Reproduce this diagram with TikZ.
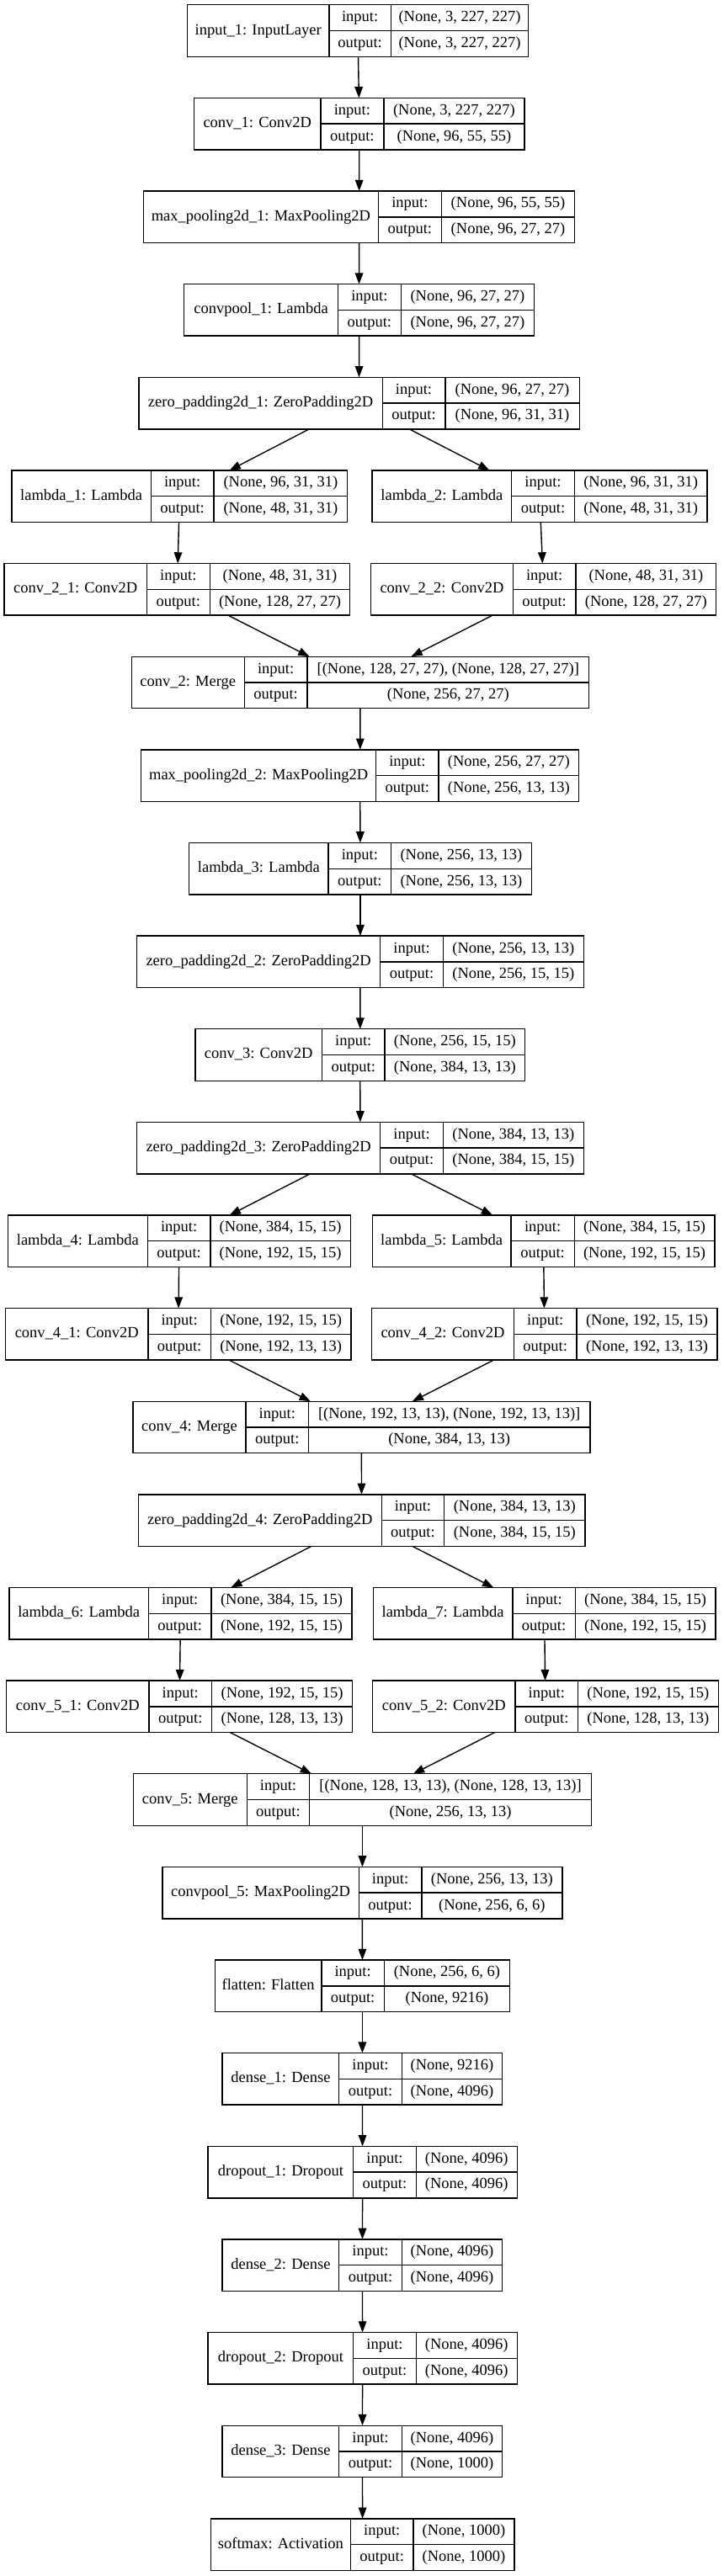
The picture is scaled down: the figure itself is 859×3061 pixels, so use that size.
\documentclass[tikz,border=0pt]{standalone}
\usepackage{fontspec}
\setmainfont{Liberation Serif}
\usetikzlibrary{arrows.meta}
\tikzset{
  lbox/.style={draw=black, line width=1.4pt, inner sep=0pt, outer sep=0pt},
  cell/.style={inner sep=0pt, text height=13pt, text depth=4pt, font=\fontsize{18.5}{22}\selectfont},
  divline/.style={line width=1.4pt, draw=black},
  conn/.style={-{Triangle[length=13.3pt,width=9.6pt]}, line width=1.4pt, draw=black},
}
\newcommand{\nnlayer}[9]{%
  \pgfmathsetmacro\lT{5.8+110.63*#6}%
  \pgfmathsetmacro\lB{\lT+61.5}%
  \pgfmathsetmacro\lM{\lT+30.75}%
  \pgfmathsetmacro\lU{\lT+15.4}%
  \pgfmathsetmacro\lD{\lT+46.1}%
  \pgfmathsetmacro\lW{#5-#2}%
  \node[lbox, minimum width=\lW pt, minimum height=61.5pt] (#1) at ({(#2+#5)/2},\lM) {};
  \draw[divline] (#3,\lT) -- (#3,\lB) (#4,\lT) -- (#4,\lB) (#3,\lM) -- (#5,\lM);
  \node[cell] (#1-t) at ({(#2+#3)/2},\lM) {#7};
  \node[cell] (#1-i) at ({(#3+#4)/2},\lU) {input:};
  \node[cell] (#1-o) at ({(#3+#4)/2},\lD) {output:};
  \node[cell] (#1-iv) at ({(#4+#5)/2},\lU) {#8};
  \node[cell] (#1-ov) at ({(#4+#5)/2},\lD) {#9};
}
\begin{document}
\begin{tikzpicture}[x=1pt,y=-1pt]
\useasboundingbox[fill=white] (0,0) rectangle (859,3061);
\nnlayer{in1}{222.3}{391}{464.3}{627.7}{0}{input\_1: InputLayer}{(None, 3, 227, 227)}{(None, 3, 227, 227)}
\nnlayer{c1}{230.7}{380.8}{455.9}{623}{1}{conv\_1: Conv2D}{(None, 3, 227, 227)}{(None, 96, 55, 55)}
\nnlayer{mp1}{170.4}{449.3}{524.4}{682.7}{2}{max\_pooling2d\_1: MaxPooling2D}{(None, 96, 55, 55)}{(None, 96, 27, 27)}
\nnlayer{cp1}{218.6}{401.6}{476.2}{634.5}{3}{convpool\_1: Lambda}{(None, 96, 27, 27)}{(None, 96, 27, 27)}
\nnlayer{zp1}{164.9}{454.2}{528.8}{688.2}{4}{zero\_padding2d\_1: ZeroPadding2D}{(None, 96, 27, 27)}{(None, 96, 31, 31)}
\nnlayer{l1}{14}{179.3}{254}{412.7}{5}{lambda\_1: Lambda}{(None, 96, 31, 31)}{(None, 48, 31, 31)}
\nnlayer{l2}{442}{607.7}{682.3}{840}{5}{lambda\_2: Lambda}{(None, 96, 31, 31)}{(None, 48, 31, 31)}
\nnlayer{c21}{5}{174.3}{249.3}{415.7}{6}{conv\_2\_1: Conv2D}{(None, 48, 31, 31)}{(None, 128, 27, 27)}
\nnlayer{c22}{440.7}{609.3}{684}{850.7}{6}{conv\_2\_2: Conv2D}{(None, 48, 31, 31)}{(None, 128, 27, 27)}
\nnlayer{c2}{156.2}{290.4}{364.9}{699.7}{7}{conv\_2: Merge}{[(None, 128, 27, 27), (None, 128, 27, 27)]}{(None, 256, 27, 27)}
\nnlayer{mp2}{167.7}{446.6}{521.1}{687.7}{8}{max\_pooling2d\_2: MaxPooling2D}{(None, 256, 27, 27)}{(None, 256, 13, 13)}
\nnlayer{l3}{224.7}{390.1}{464.7}{631.2}{9}{lambda\_3: Lambda}{(None, 256, 13, 13)}{(None, 256, 13, 13)}
\nnlayer{zp2}{162.7}{451.5}{526.6}{693.2}{10}{zero\_padding2d\_2: ZeroPadding2D}{(None, 256, 13, 13)}{(None, 256, 15, 15)}
\nnlayer{c3}{231.8}{382.5}{457}{623.6}{11}{conv\_3: Conv2D}{(None, 256, 15, 15)}{(None, 384, 13, 13)}
\nnlayer{zp3}{162.7}{451.5}{526.6}{693.2}{12}{zero\_padding2d\_3: ZeroPadding2D}{(None, 384, 13, 13)}{(None, 384, 15, 15)}
\nnlayer{l4}{9.3}{175.3}{249.9}{416.4}{13}{lambda\_4: Lambda}{(None, 384, 15, 15)}{(None, 192, 15, 15)}
\nnlayer{l5}{442.2}{607.1}{682.2}{848.8}{13}{lambda\_5: Lambda}{(None, 384, 15, 15)}{(None, 192, 15, 15)}
\nnlayer{c41}{6.6}{175.9}{250.4}{417}{14}{conv\_4\_1: Conv2D}{(None, 192, 15, 15)}{(None, 192, 13, 13)}
\nnlayer{c42}{441.6}{610.4}{685}{852}{14}{conv\_4\_2: Conv2D}{(None, 192, 15, 15)}{(None, 192, 13, 13)}
\nnlayer{c4}{157.8}{292}{366.6}{700.8}{15}{conv\_4: Merge}{[(None, 192, 13, 13), (None, 192, 13, 13)]}{(None, 384, 13, 13)}
\nnlayer{zp4}{164.4}{453.2}{527.7}{694.8}{16}{zero\_padding2d\_4: ZeroPadding2D}{(None, 384, 13, 13)}{(None, 384, 15, 15)}
\nnlayer{l6}{11}{176.4}{251}{418}{17}{lambda\_6: Lambda}{(None, 384, 15, 15)}{(None, 192, 15, 15)}
\nnlayer{l7}{443.3}{608.8}{683.3}{849.9}{17}{lambda\_7: Lambda}{(None, 384, 15, 15)}{(None, 192, 15, 15)}
\nnlayer{c51}{7.7}{177}{251.5}{418.6}{18}{conv\_5\_1: Conv2D}{(None, 192, 15, 15)}{(None, 128, 13, 13)}
\nnlayer{c52}{442.7}{612}{686.6}{853.2}{18}{conv\_5\_2: Conv2D}{(None, 192, 15, 15)}{(None, 128, 13, 13)}
\nnlayer{c5}{158.4}{293.2}{367.7}{702.5}{19}{conv\_5: Merge}{[(None, 128, 13, 13), (None, 128, 13, 13)]}{(None, 256, 13, 13)}
\nnlayer{cp5}{192.9}{426.3}{500.8}{668}{20}{convpool\_5: MaxPooling2D}{(None, 256, 13, 13)}{(None, 256, 6, 6)}
\nnlayer{fl}{255.3}{381.9}{456.4}{605.5}{21}{flatten: Flatten}{(None, 256, 6, 6)}{(None, 9216)}
\nnlayer{de1}{264.1}{402.7}{477.3}{596.7}{22}{dense\_1: Dense}{(None, 9216)}{(None, 4096)}
\nnlayer{do1}{247.1}{419.7}{494.2}{614.2}{23}{dropout\_1: Dropout}{(None, 4096)}{(None, 4096)}
\nnlayer{de2}{264.1}{402.7}{477.3}{596.7}{24}{dense\_2: Dense}{(None, 4096)}{(None, 4096)}
\nnlayer{do2}{247.1}{419.7}{494.2}{614.2}{25}{dropout\_2: Dropout}{(None, 4096)}{(None, 4096)}
\nnlayer{de3}{264.1}{402.7}{477.3}{596.7}{26}{dense\_3: Dense}{(None, 4096)}{(None, 1000)}
\nnlayer{sm}{250.4}{416.4}{491}{611}{27}{softmax: Activation}{(None, 1000)}{(None, 1000)}
\foreach \a/\b in {in1/c1, c1/mp1, mp1/cp1, cp1/zp1, zp1/l1, zp1/l2, l1/c21, l2/c22, c21/c2, c22/c2,
  c2/mp2, mp2/l3, l3/zp2, zp2/c3, c3/zp3, zp3/l4, zp3/l5, l4/c41, l5/c42, c41/c4, c42/c4,
  c4/zp4, zp4/l6, zp4/l7, l6/c51, l7/c52, c51/c5, c52/c5, c5/cp5, cp5/fl, fl/de1, de1/do1,
  do1/de2, de2/do2, do2/de3, de3/sm}
  \draw[conn] (\a) -- (\b);
\end{tikzpicture}
\end{document}
